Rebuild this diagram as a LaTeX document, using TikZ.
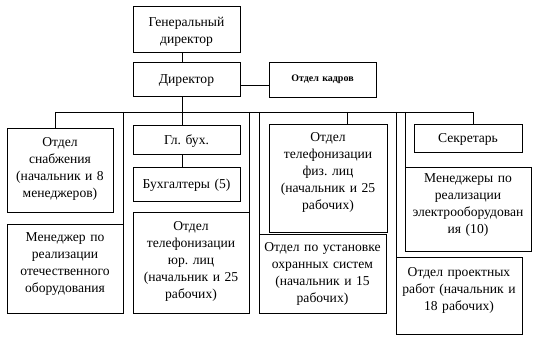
\documentclass[tikz,border=0pt]{standalone}
\usepackage{fontspec}
\setmainfont{Liberation Serif}
\hyphenpenalty=10000\relax
\exhyphenpenalty=10000\relax
\frenchspacing
\tikzset{
  box/.style={draw=black, line width=0.7pt, inner sep=0pt, align=center,
    font=\fontsize{10.2}{12.75}\selectfont},
  conn/.style={draw=black, line width=0.7pt}
}
% #1 name, #2 x1, #3 y1, #4 x2, #5 y2, #6 first-baseline offset (px), #7 options, #8 text
\newcommand\mkbox[8]{%
  \pgfmathsetmacro\bw{(#4-#2)*0.75}%
  \pgfmathsetmacro\btw{(#4-#2)*0.75}%
  \pgfmathsetmacro\bt{#6*0.75}%
  \pgfmathsetmacro\bd{(#5-#3-#6)*0.75}%
  \node[box, minimum width=\bw pt, text width=\btw pt, text height=\bt pt,
        text depth=\bd pt, anchor=north, #7] (#1) at ({(#2+#4)/2},#3) {#8};}
\begin{document}
\begin{tikzpicture}[x=0.75pt,y=-0.75pt]
\useasboundingbox (0,0) rectangle (540,349);
\mkbox{gen}{133}{6}{240}{52}{20}{}{Генеральный\\директор}
\mkbox{dir}{133}{62}{240}{96}{21}{}{Директор}
\mkbox{kadr}{269}{62}{376}{97}{19}{font=\fontsize{7.5}{9}\selectfont\bfseries}{Отдел кадров}
\mkbox{snab}{7}{128}{113}{212}{18}{}{Отдел\\снабжения\\(начальник и 8\\менеджеров)}
\mkbox{menotech}{7}{224}{123}{313}{17}{}{Менеджер по\\реализации\\отечественного\\оборудования}
\mkbox{glbuh}{133}{125}{240}{154}{19}{}{Гл. бух.}
\mkbox{buh}{133}{167}{240}{201}{21}{}{Бухгалтеры (5)}
\mkbox{yur}{133}{212}{249}{313}{18}{}{Отдел\\телефонизации\\юр. лиц\\(начальник и 25\\рабочих)}
\mkbox{fiz}{269}{124}{387}{232}{17}{}{Отдел\\телефонизации\\физ. лиц\\(начальник и 25\\рабочих)}
\mkbox{ust}{259}{234}{386}{313}{17}{}{Отдел по установке\\охранных систем\\(начальник и 15\\рабочих)}
\mkbox{sekr}{414}{124}{522}{152}{18}{}{Секретарь}
\mkbox{elec}{405}{167}{531}{251}{15}{}{Менеджеры по\\реализации\\электрооборудован\\ия (10)}
\mkbox{proekt}{396}{257}{522}{334}{19}{}{Отдел проектных\\работ (начальник и\\18 рабочих)}
% bus coordinates
\coordinate (bL) at (55,112);
\coordinate (bR) at (473,112);
\coordinate (bc) at (182,112);
\coordinate (b2) at (123,112);
\coordinate (b4) at (249,112);
\coordinate (b5) at (259,112);
\coordinate (b6) at (347,112);
\coordinate (b7) at (396,112);
\coordinate (b8) at (405,112);
\coordinate (kk) at (240,85);
% connectors
\draw[conn] (gen.south -| bc) -- (dir.north -| bc);
\draw[conn] (dir.south -| bc) -- (bc);
\draw[conn] (kk) -- (kk -| kadr.west);
\draw[conn] (bL) -- (bR);
\draw[conn] (bL) -- (bL |- snab.north);
\draw[conn] (b2) -- (b2 |- menotech.north);
\draw[conn] (bc) -- (bc |- glbuh.north);
\draw[conn] (glbuh.south -| bc) -- (buh.north -| bc);
\draw[conn] (b4) -- (b4 |- yur.north);
\draw[conn] (b5) -- (b5 |- ust.north);
\draw[conn] (b6) -- (b6 |- fiz.north);
\draw[conn] (b7) -- (b7 |- proekt.north);
\draw[conn] (b8) -- (b8 |- elec.north);
\draw[conn] (bR) -- (bR |- sekr.north);
\end{tikzpicture}
\end{document}
